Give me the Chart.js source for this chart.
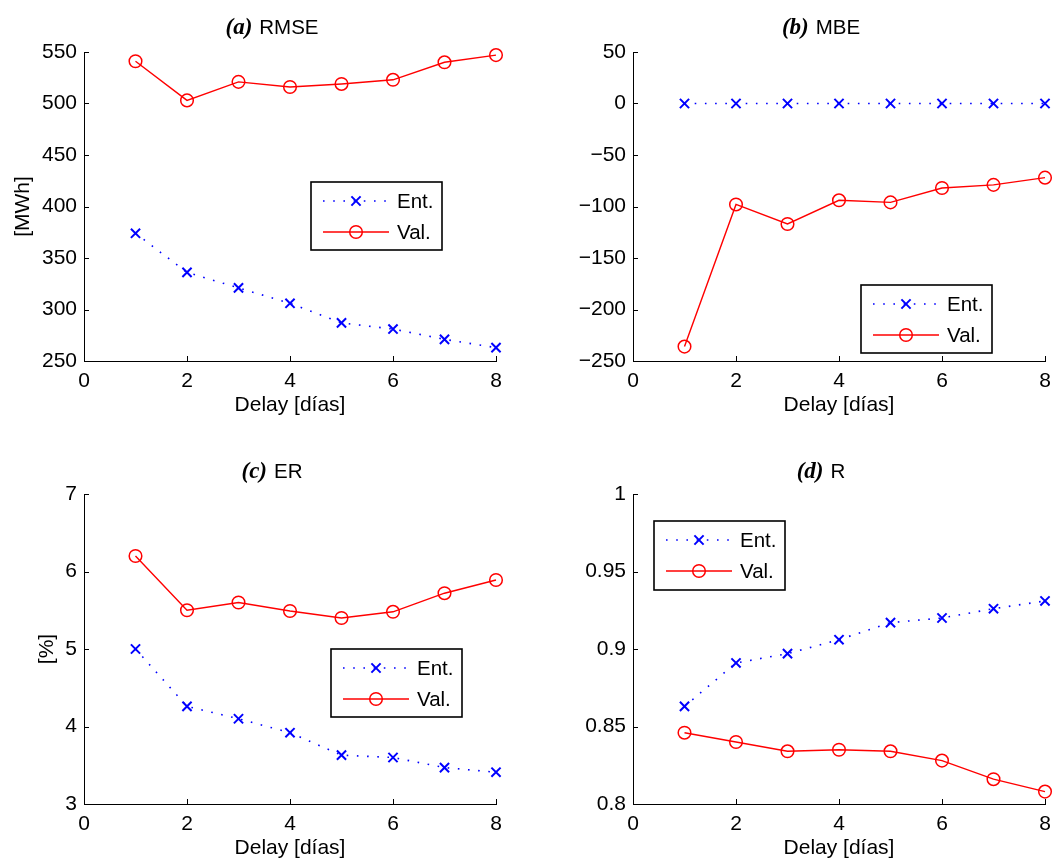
<!DOCTYPE html>
<html>
<head>
<meta charset="utf-8">
<script src="https://cdn.jsdelivr.net/npm/chart.js@4"></script>
<style>
  body { margin: 0; background: #fff; }
  .wrap { position: relative; width: 1059px; height: 861px; }
  canvas { position: absolute; }
</style>
</head>
<body>
<div class="wrap">
  <canvas id="rmse" width="530" height="430" style="left:0;top:0"></canvas>
  <canvas id="mbe" width="529" height="430" style="left:530px;top:0"></canvas>
  <canvas id="er" width="530" height="431" style="left:0;top:430px"></canvas>
  <canvas id="r" width="529" height="431" style="left:530px;top:430px"></canvas>
</div>
<script>
// delay in days (x axis)
const delays = [1, 2, 3, 4, 5, 6, 7, 8];
const xTicks = [0, 2, 4, 6, 8];
const seriesLabels = ["Ent.", "Val."];

// (a) RMSE [MWh]
const rmseEnt = [374, 336, 321, 306, 287, 281, 271, 263];
const rmseVal = [541, 503, 521, 516, 519, 523, 540, 547];
const rmseTicks = [250, 300, 350, 400, 450, 500, 550];

// (b) MBE
const mbeEnt = [0, 0, 0, 0, 0, 0, 0, 0];
const mbeVal = [-236, -98, -117, -94, -96, -82, -79, -72];
const mbeTicks = [-250, -200, -150, -100, -50, 0, 50];

// (c) ER [%]
const erEnt = [5.0, 4.26, 4.1, 3.92, 3.63, 3.6, 3.47, 3.41];
const erVal = [6.2, 5.5, 5.6, 5.49, 5.4, 5.48, 5.72, 5.89];
const erTicks = [3, 4, 5, 6, 7];

// (d) R
const rEnt = [0.863, 0.891, 0.897, 0.906, 0.917, 0.920, 0.926, 0.931];
const rVal = [0.846, 0.840, 0.834, 0.835, 0.834, 0.828, 0.816, 0.808];
const rTicks = [0.8, 0.85, 0.9, 0.95, 1];

const sans = "'Liberation Sans', Arial, Helvetica, sans-serif";
const serif = "'Liberation Serif', 'Times New Roman', serif";

// matlab style: inward ticks, mixed-font title, y label, boxed legend
const matlabLook = {
  id: 'matlabLook',
  afterDraw(chart, args, o) {
    const ctx = chart.ctx;
    const xs = chart.scales.x, ys = chart.scales.y;
    const area = chart.chartArea;
    ctx.save();
    ctx.strokeStyle = '#000';
    ctx.lineWidth = 1;
    ctx.beginPath();
    xs.ticks.forEach(t => {
      const px = Math.round(xs.getPixelForValue(t.value)) + 0.5;
      ctx.moveTo(px, area.bottom);
      ctx.lineTo(px, area.bottom - 5);
    });
    ys.ticks.forEach(t => {
      const py = Math.round(ys.getPixelForValue(t.value)) + 0.5;
      ctx.moveTo(area.left, py);
      ctx.lineTo(area.left + 5, py);
    });
    ctx.stroke();

    // title
    ctx.fillStyle = '#000';
    ctx.textBaseline = 'alphabetic';
    ctx.textAlign = 'left';
    const f1 = 'bold italic 23px ' + serif, f2 = '20.5px ' + sans;
    ctx.font = f1;
    const w1 = ctx.measureText(o.tag).width;
    ctx.font = f2;
    const w2 = ctx.measureText(o.name).width;
    const gap = 7;
    let tx = (area.left + area.right) / 2 - 18 - (w1 + gap + w2) / 2;
    ctx.font = f1;
    ctx.fillText(o.tag, tx, o.titleY);
    ctx.font = f2;
    ctx.fillText(o.name, tx + w1 + gap, o.titleY);

    // y axis label
    if (o.yLabel) {
      ctx.save();
      ctx.translate(o.yLabelX, (area.top + area.bottom) / 2);
      ctx.rotate(-Math.PI / 2);
      ctx.textAlign = 'center';
      ctx.textBaseline = 'middle';
      ctx.font = '21px ' + sans;
      ctx.fillText(o.yLabel, 0, 0);
      ctx.restore();
    }

    // legend
    const lg = o.legend;
    ctx.fillStyle = '#fff';
    ctx.fillRect(lg.x, lg.y, lg.w, lg.h);
    ctx.lineWidth = 1.6;
    ctx.strokeStyle = '#000';
    ctx.strokeRect(lg.x, lg.y, lg.w, lg.h);
    chart.data.datasets.forEach((ds, i) => {
      const cy = lg.y + (i ? 50 : 19);
      ctx.strokeStyle = ds.borderColor;
      ctx.lineWidth = ds.borderWidth;
      ctx.setLineDash(ds.borderDash || []);
      ctx.beginPath();
      ctx.moveTo(lg.x + 12, cy);
      ctx.lineTo(lg.x + 78, cy);
      ctx.stroke();
      ctx.setLineDash([]);
      ctx.fillStyle = 'rgba(0,0,0,0)';
      ctx.lineWidth = ds.pointBorderWidth;
      Chart.helpers.drawPoint(ctx, {
        pointStyle: ds.pointStyle, radius: ds.pointRadius, rotation: 0, borderWidth: ds.pointBorderWidth
      }, lg.x + 45, cy);
      ctx.fillStyle = '#000';
      ctx.font = '20.5px ' + sans;
      ctx.textBaseline = 'middle';
      ctx.textAlign = 'left';
      ctx.fillText(ds.label, lg.x + 86, cy + 1);
    });
    ctx.restore();
  }
};

function entSet(vals) {
  return {
    label: seriesLabels[0],
    data: delays.map((d, i) => ({ x: d, y: vals[i] })),
    borderColor: '#0000ff',
    backgroundColor: '#0000ff',
    borderWidth: 1.6,
    borderDash: [1.6, 8.6],
    pointStyle: 'crossRot',
    pointRadius: 6.5,
    pointBorderWidth: 2,
    tension: 0,
    clip: false
  };
}

function valSet(vals) {
  return {
    label: seriesLabels[1],
    data: delays.map((d, i) => ({ x: d, y: vals[i] })),
    borderColor: '#ff0000',
    backgroundColor: 'rgba(0,0,0,0)',
    borderWidth: 1.4,
    pointStyle: 'circle',
    pointRadius: 6.3,
    pointBorderWidth: 1.5,
    tension: 0,
    clip: false
  };
}

function fmt(v) {
  return String(+v.toFixed(2)).replace('-', '\u2212');
}

function panel(id, p) {
  new Chart(document.getElementById(id), {
    type: 'line',
    data: { datasets: [entSet(p.ent), valSet(p.val)] },
    options: {
      responsive: false,
      animation: false,
      devicePixelRatio: 1,
      events: [],
      layout: { padding: p.pad },
      plugins: {
        legend: { display: false },
        tooltip: { enabled: false },
        matlabLook: p.look
      },
      scales: {
        x: {
          type: 'linear',
          min: 0,
          max: 8,
          afterBuildTicks: s => { s.ticks = xTicks.map(v => ({ value: v })); },
          afterFit: s => { s.height = 55; },
          grid: { display: false, drawTicks: false },
          border: { display: true, color: '#000', width: 1 },
          ticks: { color: '#000', font: { family: sans, size: 21 }, padding: 8, maxRotation: 0, autoSkip: false, callback: v => fmt(v) },
          title: { display: true, text: 'Delay [días]', color: '#000', font: { family: sans, size: 21, lineHeight: 1 }, padding: 0 }
        },
        y: {
          type: 'linear',
          min: p.ticks[0],
          max: p.ticks[p.ticks.length - 1],
          afterBuildTicks: s => { s.ticks = p.ticks.map(v => ({ value: v })); },
          afterFit: s => { s.width = p.yw; },
          grid: { display: false, drawTicks: false },
          border: { display: true, color: '#000', width: 1 },
          ticks: { color: '#000', font: { family: sans, size: 21 }, padding: 7, autoSkip: false, callback: v => fmt(v) }
        }
      }
    },
    plugins: [matlabLook]
  });
}

panel('rmse', {
  ent: rmseEnt, val: rmseVal, ticks: rmseTicks, yw: 84,
  pad: { left: 0, right: 34, top: 52, bottom: 14 },
  look: { tag: '(a)', name: 'RMSE', titleY: 34, yLabel: '[MWh]', yLabelX: 23,
    legend: { x: 311, y: 182, w: 131, h: 68 } }
});

panel('mbe', {
  ent: mbeEnt, val: mbeVal, ticks: mbeTicks, yw: 103,
  pad: { left: 0, right: 14, top: 52, bottom: 14 },
  look: { tag: '(b)', name: 'MBE', titleY: 34,
    legend: { x: 331, y: 285, w: 131, h: 68 } }
});

panel('er', {
  ent: erEnt, val: erVal, ticks: erTicks, yw: 84,
  pad: { left: 0, right: 34, top: 64, bottom: 2 },
  look: { tag: '(c)', name: 'ER', titleY: 48, yLabel: '[%]', yLabelX: 47,
    legend: { x: 331, y: 219, w: 131, h: 68 } }
});

panel('r', {
  ent: rEnt, val: rVal, ticks: rTicks, yw: 103,
  pad: { left: 0, right: 14, top: 64, bottom: 2 },
  look: { tag: '(d)', name: 'R', titleY: 48,
    legend: { x: 124, y: 91, w: 131, h: 69 } }
});
</script>
</body>
</html>
